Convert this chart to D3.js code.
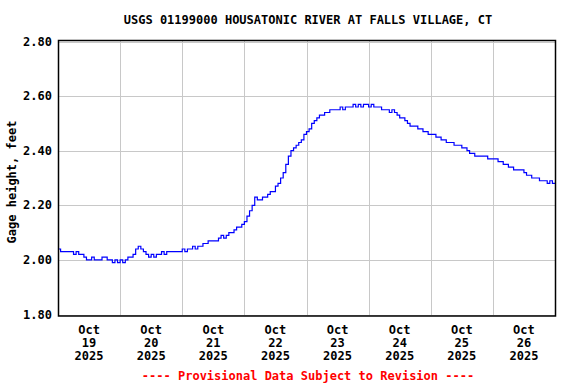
<!DOCTYPE html>
<html>
<head>
<meta charset="utf-8">
<script src="https://cdn.jsdelivr.net/npm/d3@7"></script>
<style>
  body { margin: 0; background: #fff; }
  text { font-family: "DejaVu Sans Mono", "Liberation Mono", monospace; font-weight: bold; font-size: 12px; }
</style>
</head>
<body>
<div id="chart"></div>
<script>
// gage height readings, hourly, starting Oct 19 2025 00:00
var start_date = '2025-10-19T00:00';
var gage = [
  // Oct 19
  2.04, 2.03, 2.03, 2.03, 2.03, 2.03, 2.02, 2.03, 2.02, 2.02, 2.01, 2.00,
  2.00, 2.01, 2.00, 2.00, 2.00, 2.01, 2.01, 2.00, 2.00, 1.99, 2.00, 1.99,
  // Oct 20
  2.00, 1.99, 2.00, 2.01, 2.01, 2.02, 2.04, 2.05, 2.04, 2.03, 2.02, 2.01,
  2.02, 2.01, 2.02, 2.02, 2.03, 2.02, 2.03, 2.03, 2.03, 2.03, 2.03, 2.03,
  // Oct 21
  2.04, 2.03, 2.04, 2.04, 2.05, 2.04, 2.05, 2.05, 2.06, 2.06, 2.07, 2.07,
  2.07, 2.07, 2.08, 2.09, 2.08, 2.09, 2.10, 2.10, 2.11, 2.12, 2.12, 2.13,
  // Oct 22
  2.14, 2.16, 2.18, 2.20, 2.23, 2.22, 2.22, 2.23, 2.23, 2.24, 2.25, 2.25,
  2.27, 2.28, 2.30, 2.32, 2.35, 2.38, 2.40, 2.41, 2.42, 2.43, 2.44, 2.46,
  // Oct 23
  2.47, 2.48, 2.50, 2.51, 2.52, 2.53, 2.53, 2.54, 2.54, 2.55, 2.55, 2.55,
  2.55, 2.56, 2.55, 2.56, 2.56, 2.56, 2.57, 2.56, 2.57, 2.56, 2.57, 2.57,
  // Oct 24
  2.56, 2.57, 2.56, 2.56, 2.56, 2.55, 2.55, 2.55, 2.54, 2.55, 2.54, 2.53,
  2.52, 2.52, 2.51, 2.50, 2.49, 2.49, 2.49, 2.48, 2.48, 2.47, 2.47, 2.46,
  // Oct 25
  2.46, 2.46, 2.45, 2.45, 2.44, 2.44, 2.43, 2.43, 2.43, 2.42, 2.42, 2.42,
  2.41, 2.41, 2.40, 2.39, 2.39, 2.38, 2.38, 2.38, 2.38, 2.38, 2.37, 2.37,
  // Oct 26
  2.37, 2.37, 2.36, 2.36, 2.35, 2.35, 2.34, 2.34, 2.33, 2.33, 2.33, 2.33,
  2.32, 2.31, 2.31, 2.30, 2.30, 2.30, 2.29, 2.29, 2.29, 2.28, 2.29, 2.28,
  2.28
];
var y_ticks = [1.80, 2.00, 2.20, 2.40, 2.60, 2.80];
var day_labels = ['19', '20', '21', '22', '23', '24', '25', '26'];
var month_label = 'Oct';
var year_label = '2025';
var title = 'USGS 01199000 HOUSATONIC RIVER AT FALLS VILLAGE, CT';
var y_title = 'Gage height, feet';
var footer = '---- Provisional Data Subject to Revision ----';

var chart_width = 576;
var chart_height = 384;
var plot_left = 58, plot_right = 555, plot_top = 40, plot_bottom = 315.5;

var t0 = new Date(start_date);
var hour = 3600 * 1000;
var data = gage.map(function(v, i) {
  return { date: new Date(t0.getTime() + i * hour), value: v };
});
var days = day_labels.map(function(d, i) {
  return new Date(t0.getTime() + i * 24 * hour);
});
var t_end = new Date(t0.getTime() + day_labels.length * 24 * hour);

var svg = d3.select('#chart')
  .append('svg')
  .attr('width', chart_width)
  .attr('height', chart_height);

var x_scale = d3.scaleTime()
  .domain([t0, t_end])
  .range([plot_left, plot_right]);

var y_scale = d3.scaleLinear()
  .domain([1.8, 2.8])
  .range([314.5, 41.5]);

// grid lines
svg.append('g')
  .selectAll('line')
  .data(y_ticks)
  .enter()
  .append('line')
  .attr('x1', plot_left)
  .attr('x2', plot_right)
  .attr('y1', function(d) { return Math.round(y_scale(d)) + 0.5; })
  .attr('y2', function(d) { return Math.round(y_scale(d)) + 0.5; })
  .attr('stroke', '#c8c8c8')
  .attr('stroke-width', 1);

svg.append('g')
  .selectAll('line')
  .data(days.slice(1))
  .enter()
  .append('line')
  .attr('x1', function(d) { return Math.round(x_scale(d)) + 0.5; })
  .attr('x2', function(d) { return Math.round(x_scale(d)) + 0.5; })
  .attr('y1', plot_top)
  .attr('y2', plot_bottom)
  .attr('stroke', '#c8c8c8')
  .attr('stroke-width', 1);

// data line
var line = d3.line()
  .x(function(d) { return x_scale(d.date); })
  .y(function(d) { return y_scale(d.value); })
  .curve(d3.curveStepAfter);

svg.append('path')
  .datum(data)
  .attr('d', line)
  .attr('fill', 'none')
  .attr('stroke', '#0000ff')
  .attr('stroke-width', 1.2);

// frame
svg.append('rect')
  .attr('x', plot_left + 0.5)
  .attr('y', plot_top + 0.5)
  .attr('width', plot_right - plot_left)
  .attr('height', plot_bottom - plot_top)
  .attr('fill', 'none')
  .attr('stroke', '#000')
  .attr('stroke-width', 1.5);

// y tick labels
svg.append('g')
  .selectAll('text')
  .data(y_ticks)
  .enter()
  .append('text')
  .text(function(d) { return d.toFixed(2); })
  .attr('x', 52)
  .attr('y', function(d) { return y_scale(d) + 4; })
  .attr('text-anchor', 'end');

// x tick labels, centred on each day
function mid_day(d) {
  return x_scale(new Date(d.getTime() + 12 * hour));
}
var x_labels = svg.append('g')
  .selectAll('text')
  .data(days)
  .enter()
  .append('text')
  .attr('text-anchor', 'middle')
  .attr('x', mid_day)
  .attr('y', 334);
x_labels.append('tspan')
  .attr('x', mid_day)
  .attr('dy', 0)
  .text(month_label);
x_labels.append('tspan')
  .attr('x', mid_day)
  .attr('dy', 13)
  .text(function(d, i) { return day_labels[i]; });
x_labels.append('tspan')
  .attr('x', mid_day)
  .attr('dy', 13)
  .text(year_label);

// titles
svg.append('text')
  .text(title)
  .attr('x', 308)
  .attr('y', 24)
  .attr('text-anchor', 'middle');

svg.append('text')
  .text(y_title)
  .attr('transform', 'translate(16,182) rotate(-90)')
  .attr('text-anchor', 'middle');

svg.append('text')
  .text(footer)
  .attr('x', 308)
  .attr('y', 380)
  .attr('text-anchor', 'middle')
  .attr('fill', '#ff0000');
</script>
</body>
</html>
